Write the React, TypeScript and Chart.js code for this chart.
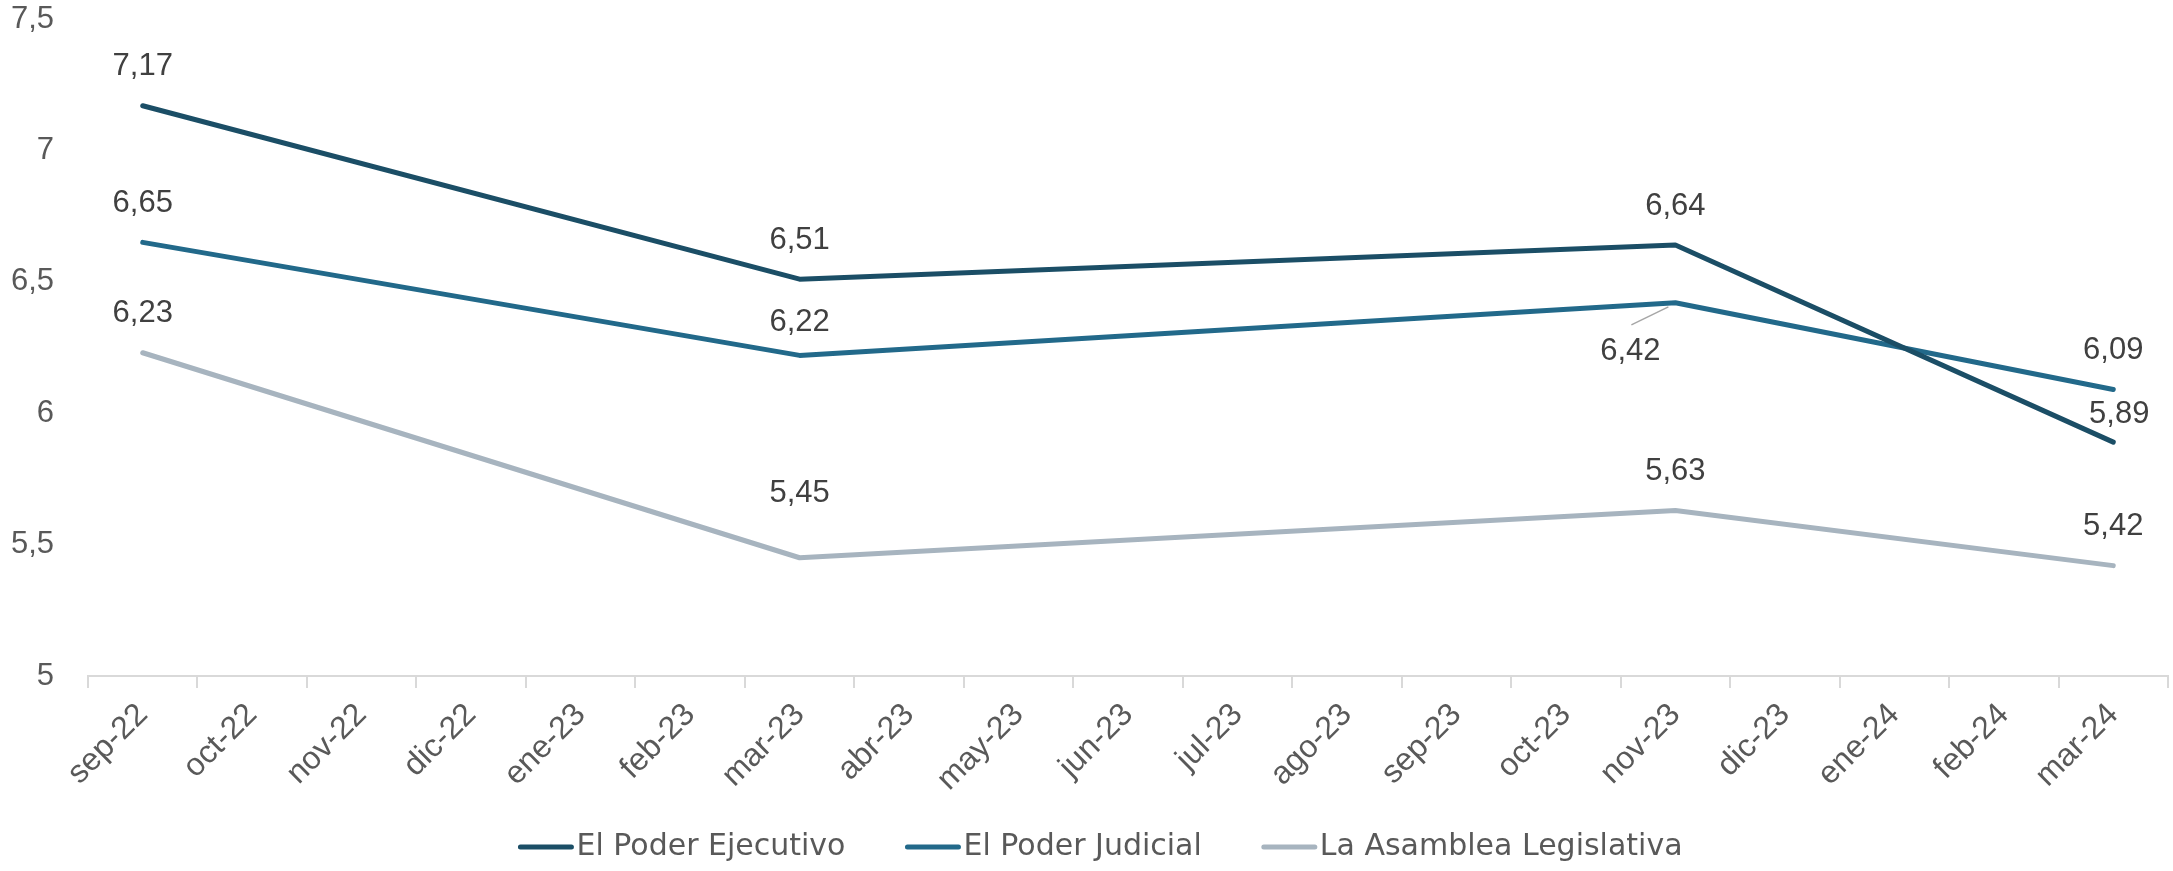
import React, { useEffect, useRef } from 'react';
import { Chart, registerables } from 'chart.js';

Chart.register(...registerables);

const categories = [
  'sep-22', 'oct-22', 'nov-22', 'dic-22', 'ene-23', 'feb-23', 'mar-23', 'abr-23', 'may-23', 'jun-23',
  'jul-23', 'ago-23', 'sep-23', 'oct-23', 'nov-23', 'dic-23', 'ene-24', 'feb-24', 'mar-24',
];

const ejecutivo = [7.17, null, null, null, null, null, 6.51, null, null, null, null, null, null, null, 6.64, null, null, null, 5.89];
const judicial = [6.65, null, null, null, null, null, 6.22, null, null, null, null, null, null, null, 6.42, null, null, null, 6.09];
const asamblea = [6.23, null, null, null, null, null, 5.45, null, null, null, null, null, null, null, 5.63, null, null, null, 5.42];

const seriesNames = ['El Poder Ejecutivo', 'El Poder Judicial', 'La Asamblea Legislativa'];
const seriesColors = ['#1b4e66', '#22698a', '#a7b4bf'];

const yTicks = [5, 5.5, 6, 6.5, 7, 7.5];

const fmtComma = (v: number, digits?: number) =>
  (digits === undefined ? String(v) : v.toFixed(digits)).replace('.', ',');

// label placement tweaks (dataset index - point index), relative to point pixel
const labelTweaks: Record<string, { dx?: number; dy?: number; leader?: boolean }> = {
  '1-14': { dx: -45, dy: 49, leader: true },
  '0-18': { dx: 6, dy: -28 },
  '2-6': { dy: -64 },
  '1-6': { dy: -33 },
};

const dataLabelPlugin = {
  id: 'dataLabels',
  afterDatasetsDraw(chart: any) {
    const ctx = chart.ctx;
    ctx.save();
    ctx.font = '31px "Liberation Sans", Arial, sans-serif';
    ctx.fillStyle = '#404040';
    ctx.textAlign = 'center';
    ctx.textBaseline = 'middle';
    chart.data.datasets.forEach((ds: any, di: number) => {
      const meta = chart.getDatasetMeta(di);
      ds.data.forEach((v: number | null, i: number) => {
        if (v == null) return;
        const pt = meta.data[i];
        const t = labelTweaks[`${di}-${i}`] || {};
        const dx = t.dx ?? 0;
        const dy = t.dy ?? -39;
        if (t.leader) {
          ctx.save();
          ctx.strokeStyle = '#a6a6a6';
          ctx.lineWidth = 1.5;
          ctx.beginPath();
          ctx.moveTo(pt.x - 44, pt.y + 22);
          ctx.lineTo(pt.x - 7, pt.y + 4);
          ctx.stroke();
          ctx.restore();
        }
        ctx.fillText(fmtComma(v, 2), pt.x + dx, pt.y + dy);
      });
    });
    ctx.restore();
  },
};

// legend drawn in the space reserved by layout.padding.bottom
const legendPlugin = {
  id: 'lineLegend',
  afterDraw(chart: any) {
    const ctx = chart.ctx;
    ctx.save();
    ctx.font = '30px "DejaVu Sans", sans-serif';
    ctx.textBaseline = 'middle';
    ctx.textAlign = 'left';
    const sampleW = 55;
    const textGap = 3;
    const itemGap = 60;
    const widths = chart.data.datasets.map((ds: any) => sampleW + textGap + ctx.measureText(ds.label).width);
    const total = widths.reduce((a: number, b: number) => a + b, 0) + itemGap * (widths.length - 1);
    let x = (chart.width - total) / 2 + 14;
    const y = chart.height - 24;
    chart.data.datasets.forEach((ds: any, i: number) => {
      ctx.strokeStyle = ds.borderColor;
      ctx.lineWidth = 5;
      ctx.lineCap = 'round';
      ctx.beginPath();
      ctx.moveTo(x + 2, y);
      ctx.lineTo(x + sampleW - 2, y);
      ctx.stroke();
      ctx.fillStyle = '#595959';
      ctx.fillText(ds.label, x + sampleW + textGap, y);
      x += widths[i] + itemGap;
    });
    ctx.restore();
  },
};

export default function App() {
  const canvasRef = useRef<HTMLCanvasElement | null>(null);

  useEffect(() => {
    if (!canvasRef.current) return;
    const seriesData = [ejecutivo, judicial, asamblea];
    const xFont = { family: '"Liberation Sans", Arial, sans-serif', size: 32 };
    const yFont = { family: '"Liberation Sans", Arial, sans-serif', size: 31 };
    const chart = new Chart(canvasRef.current, {
      type: 'line',
      data: {
        labels: categories,
        datasets: seriesData.map((d, i) => ({
          label: seriesNames[i],
          data: d,
          borderColor: seriesColors[i],
          backgroundColor: seriesColors[i],
          borderWidth: 5,
          pointRadius: 0,
          pointHoverRadius: 0,
          spanGaps: true,
          tension: 0,
          borderJoinStyle: 'round' as const,
          borderCapStyle: 'round' as const,
        })),
      },
      options: {
        animation: false,
        responsive: false,
        layout: { padding: { top: 19, right: 5, bottom: 72, left: 0 } },
        plugins: {
          legend: { display: false },
          tooltip: { enabled: false },
        },
        scales: {
          x: {
            offset: true,
            grid: {
              offset: true,
              display: true,
              drawOnChartArea: false,
              drawTicks: true,
              tickLength: 12,
              color: '#d9d9d9',
              lineWidth: 2,
            },
            border: { display: true, color: '#d9d9d9', width: 2 },
            ticks: {
              autoSkip: false,
              minRotation: 45,
              maxRotation: 45,
              padding: 8,
              color: '#595959',
              font: xFont,
            },
            afterFit: (s: any) => {
              s.height = 123;
            },
          },
          y: {
            min: 5,
            max: 7.5,
            afterBuildTicks: (s: any) => {
              s.ticks = yTicks.map((v) => ({ value: v }));
            },
            grid: { display: false, drawTicks: false },
            border: { display: false },
            ticks: {
              padding: 34,
              color: '#595959',
              font: yFont,
              callback: (v: any) => fmtComma(Number(v)),
            },
            afterFit: (s: any) => {
              s.width = 88;
              s.paddingTop = 0;
              s.paddingBottom = 0;
            },
          },
        },
      },
      plugins: [dataLabelPlugin, legendPlugin],
    } as any);
    return () => chart.destroy();
  }, []);

  return (
    <div style={{ position: 'absolute', left: 0, top: 0, width: 2173, height: 871, background: '#ffffff' }}>
      <canvas ref={canvasRef} width={2173} height={871} style={{ display: 'block' }} />
    </div>
  );
}
